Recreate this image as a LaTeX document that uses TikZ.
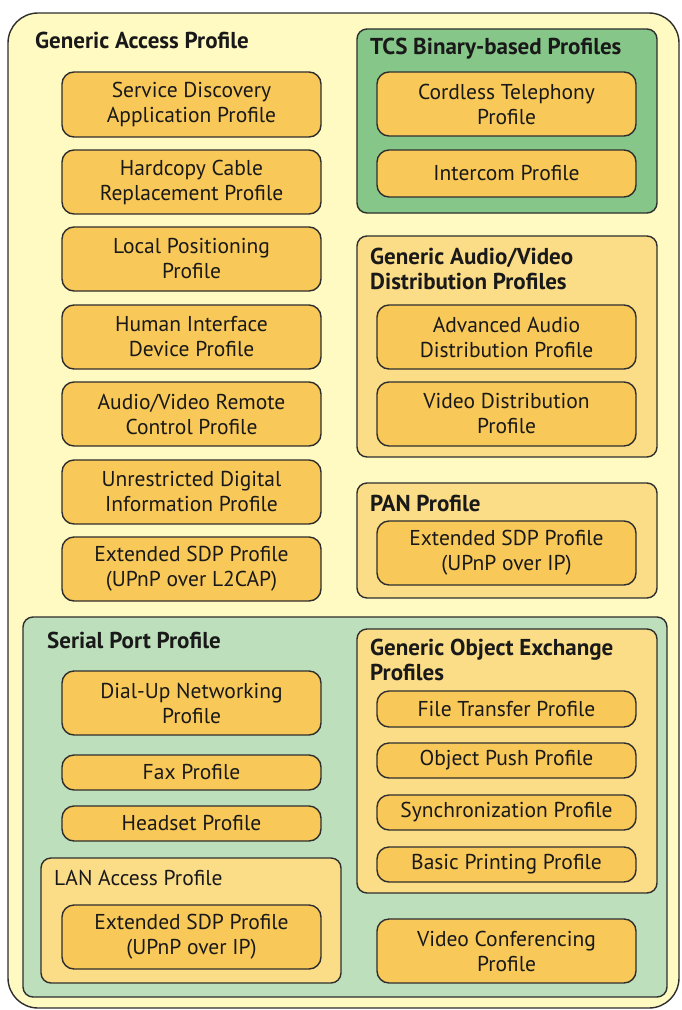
\documentclass[tikz,border=0pt]{standalone}
\usepackage{fontspec}
\setmainfont{PT Sans}
\definecolor{outerfill}{HTML}{FFF9C2}
\definecolor{profill}{HTML}{F8C858}
\definecolor{tcsfill}{HTML}{86C689}
\definecolor{spfill}{HTML}{BEDFBB}
\definecolor{grpfill}{HTML}{FBDD88}
\definecolor{edge}{HTML}{2E2E2E}
\tikzset{
  prof/.style={draw=edge, line width=1.4pt, fill=profill, rounded corners=12pt, align=center,
    inner sep=0pt, font=\fontsize{21.5}{25}\selectfont, text=black!90},
  grp/.style={draw=edge, line width=1.4pt, rounded corners=10pt, inner sep=0pt},
  ttl/.style={anchor=west, inner sep=0pt, font=\bfseries\fontsize{23}{25}\selectfont, align=left, text=black!90},
  ttlr/.style={anchor=west, inner sep=0pt, font=\fontsize{21.5}{25}\selectfont, align=left, text=black!90}
}
\newcommand{\pbox}[6]{% name, x1, y1, x2, y2, text
  \node[prof, minimum width={(#4)-(#2)}, minimum height={(#5)-(#3)}] (#1) at ({((#2)+(#4))/2},{((#3)+(#5))/2}) {#6};}
\newcommand{\gbox}[6]{% name, x1, y1, x2, y2, fill
  \node[grp, fill=#6, minimum width={(#4)-(#2)}, minimum height={(#5)-(#3)}] (#1) at ({((#2)+(#4))/2},{((#3)+(#5))/2}) {};}
\begin{document}
\begin{tikzpicture}[x=1pt,y=-1pt]
\useasboundingbox (0,0) rectangle (681,1010);
% outer
\node[grp, fill=outerfill, rounded corners=30pt, minimum width=671, minimum height=995] (gap) at (343.5,510.5) {};
\node[ttl] (gapt) at (35,40) {Generic Access Profile};
% left column
\pbox{sdap}{62}{72}{321}{137}{Service Discovery\\Application Profile}
\pbox{hcrp}{62}{150}{321}{214}{Hardcopy Cable\\Replacement Profile}
\pbox{lpp}{62}{227}{321}{291}{Local Positioning\\Profile}
\pbox{hid}{62}{305}{321}{369}{Human Interface\\Device Profile}
\pbox{avrcp}{62}{382}{321}{446}{Audio/Video Remote\\Control Profile}
\pbox{udi}{62}{460}{321}{524}{Unrestricted Digital\\Information Profile}
\pbox{esdp1}{62}{537}{321}{601}{Extended SDP Profile\\(UPnP over L2CAP)}
% TCS
\gbox{tcs}{357}{29}{657}{213}{tcsfill}
\node[ttl] (tcst) at (370,49) {TCS Binary-based Profiles};
\pbox{ctp}{377}{72}{636}{136}{Cordless Telephony\\Profile}
\pbox{icp}{377}{150}{636}{197}{Intercom Profile}
% GAVDP
\gbox{gavdp}{357}{236}{657}{457}{grpfill}
\node[ttl] (gavdpt) at (370,268.5) {Generic Audio/Video\\Distribution Profiles};
\pbox{a2dp}{377}{305}{636}{369}{Advanced Audio\\Distribution Profile}
\pbox{vdp}{377}{382}{636}{446}{Video Distribution\\Profile}
% PAN
\gbox{pan}{357}{483}{657}{598}{grpfill}
\node[ttl] (pant) at (370,503) {PAN Profile};
\pbox{esdp2}{377}{521}{636}{585}{Extended SDP Profile\\(UPnP over IP)}
% Serial Port
\gbox{spp}{23}{617}{667}{997}{spfill}
\node[ttl] (sppt) at (47,640) {Serial Port Profile};
\pbox{dun}{62}{671}{321}{735}{Dial-Up Networking\\Profile}
\pbox{fax}{62}{755}{321}{790}{Fax Profile}
\pbox{hsp}{62}{806}{321}{841}{Headset Profile}
\gbox{lap}{41}{858}{341}{983}{grpfill}
\node[ttlr] (lapt) at (54,878) {LAN Access Profile};
\pbox{esdp3}{62}{905}{321}{969}{Extended SDP Profile\\(UPnP over IP)}
% GOEP
\gbox{goep}{357}{629}{657}{893}{grpfill}
\node[ttl] (goept) at (370,660) {Generic Object Exchange\\Profiles};
\pbox{ftp}{377}{691}{636}{727}{File Transfer Profile}
\pbox{opp}{377}{743}{636}{778}{Object Push Profile}
\pbox{sync}{377}{795}{636}{830}{Synchronization Profile}
\pbox{bpp}{377}{847}{636}{882}{Basic Printing Profile}
\pbox{vcp}{377}{919}{636}{983}{Video Conferencing\\Profile}
\end{tikzpicture}
\end{document}
